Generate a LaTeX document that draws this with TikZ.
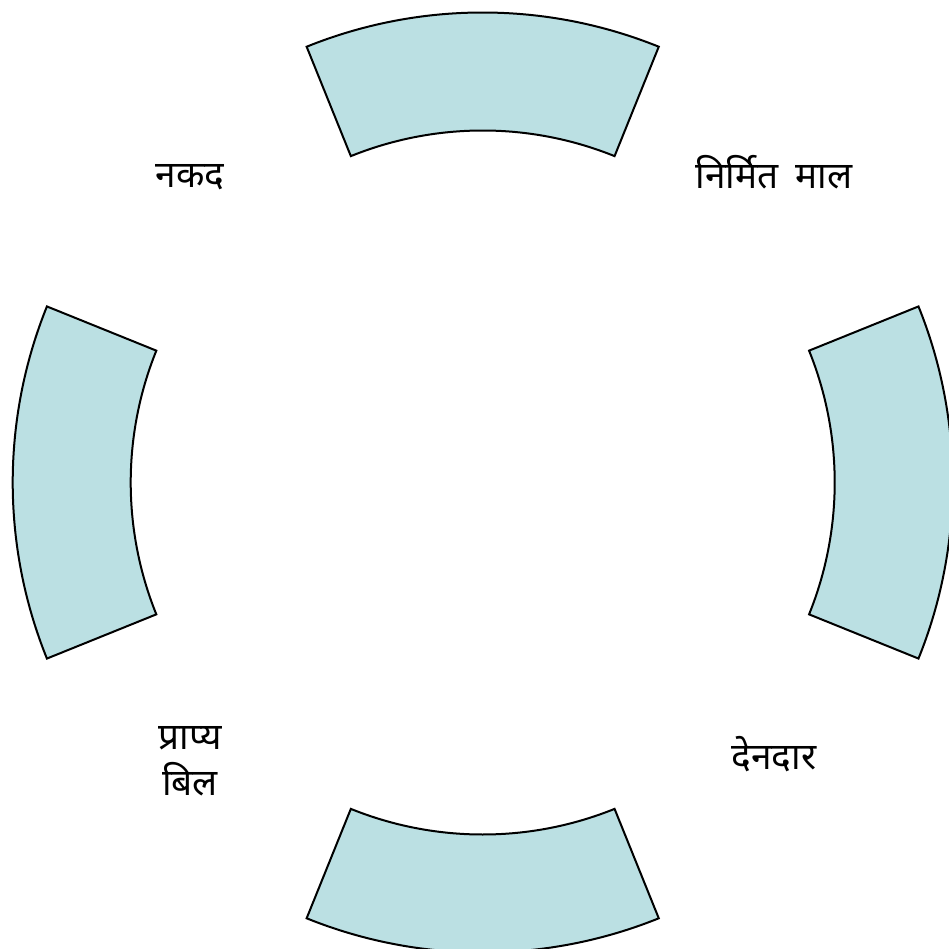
\documentclass[tikz,border=0pt]{standalone}
\usepackage{fontspec}
\usetikzlibrary{calc}
\newfontfamily\deva[Script=Devanagari]{Noto Sans}
\definecolor{segc}{HTML}{BBE0E3}
\begin{document}
\begin{tikzpicture}[x=1pt,y=-1pt,
  seg/.style={fill=segc, draw=black, line width=2pt, line join=miter},
  lab/.style={font=\deva\fontsize{37}{46}\selectfont, align=center, inner sep=0pt}]
\useasboundingbox (0,0) rectangle (949,949);
\coordinate (c) at (482.7,482.5);
\foreach \a in {0,90,180,270} {
  \draw[seg] ($(c)+(\a-22:470)$) arc[start angle=\a-22, end angle=\a+22, radius=470]
    -- ($(c)+(\a+22:352)$) arc[start angle=\a+22, end angle=\a-22, radius=352] -- cycle;
}
\node[lab] (nakad) at (190,177) {नकद};
\node[lab] (nirmit) at (774,172) {निर्मित\hspace{0.2em} माल};
\node[lab] (dendar) at (774,754) {देनदार};
\node[lab] (prapya) at (190,761) {प्राप्य\\बिल};
\end{tikzpicture}
\end{document}
